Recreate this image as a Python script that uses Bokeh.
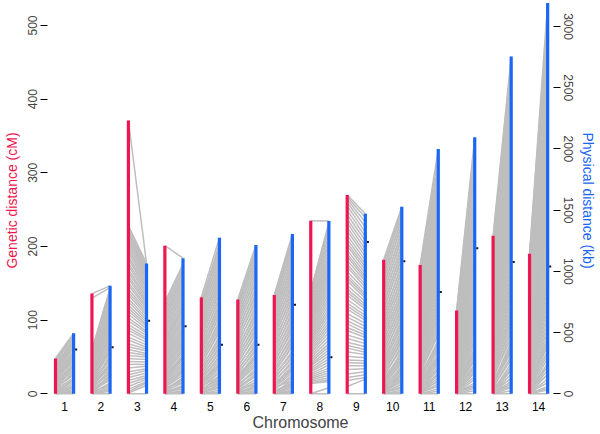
from bokeh.plotting import figure
from bokeh.models import Range1d, LinearAxis, FixedTicker
from bokeh.embed import file_html
from bokeh.resources import INLINE

chromosomes = list(range(1, 15))
genetic_len = [48, 136, 371, 201, 131, 128, 134, 235, 270, 182, 175, 113, 214.5, 190]
physical_len = [495, 882, 1064, 1108, 1275, 1216, 1305, 1411, 1471, 1528, 2000, 2095, 2755, 3193]
centromere_kb = [361, 380, 597, 551, 401, 401, 727, 298, 1240, 1083, 831, 1189, 1077, 1039]

# marker positions: genetic (cM) and physical (kb), one pair per marker
cm1 = [0, 0, 1, 2, 3, 4, 5, 6, 8, 9, 11, 13, 15, 17, 19, 21, 24, 26, 29, 31, 34, 37, 40, 43, 46, 48,
       0, 1, 2, 3, 5, 7, 10, 12, 14, 18, 20, 22, 27, 32, 36, 39, 45]
kb1 = [0, 25, 50, 35, 80, 105, 95, 130, 160, 150, 190, 215, 240, 230, 265, 290, 310, 330, 350, 370, 395, 415, 440, 460, 480, 495,
       10, 65, 15, 120, 55, 175, 200, 225, 250, 280, 300, 320, 340, 385, 405, 430, 470]
cm2 = [0, 0, 1, 2, 3, 5, 6, 8, 10, 12, 14, 16, 18, 20, 23, 25, 28, 30, 33, 36, 39, 42, 45, 48, 51, 54, 57, 60, 130, 136,
       0, 1, 2, 4, 7, 9, 11, 13, 15, 17, 19, 22, 24, 27, 29, 31, 35, 38, 41, 44, 47, 50, 53, 56, 59]
kb2 = [0, 20, 45, 75, 60, 110, 140, 175, 160, 210, 250, 290, 270, 330, 370, 410, 450, 440, 500, 540, 580, 620, 660, 700, 745, 790, 830, 860, 868, 882,
       35, 90, 130, 150, 195, 230, 240, 310, 300, 350, 390, 360, 420, 470, 480, 520, 560, 600, 640, 680, 720, 770, 810, 845, 855]
cm3 = [0, 3, 10, 18, 26, 35, 44, 52, 60, 68, 77, 86, 94, 103, 112, 120, 129, 138, 147, 156, 165, 174, 183, 192, 200, 208, 215, 222, 228, 371,
       1, 6, 14, 22, 30, 40, 48, 56, 64, 73, 82, 90, 99, 108, 116, 125, 134, 142, 151, 160, 169, 178, 187, 196, 204, 211, 218, 225]
kb3 = [0, 90, 120, 150, 190, 225, 260, 300, 330, 365, 400, 440, 475, 510, 550, 585, 620, 660, 700, 735, 770, 810, 850, 890, 930, 970, 1000, 1035, 1064, 1064,
       70, 100, 135, 170, 205, 240, 280, 315, 350, 380, 420, 455, 495, 530, 565, 600, 640, 680, 715, 750, 790, 830, 870, 910, 950, 985, 1020, 1050]
cm4 = [0, 0, 1, 2, 4, 5, 7, 9, 11, 14, 17, 20, 24, 28, 32, 37, 42, 47, 52, 58, 64, 70, 76, 83, 90, 97, 104, 111, 118, 125, 201,
       0, 1, 3, 6, 8, 10, 13, 16, 19, 22, 26, 30, 35, 40, 45, 50, 55, 61, 67, 73, 80, 87, 94, 101, 108, 115, 122]
kb4 = [0, 25, 55, 40, 90, 120, 110, 150, 185, 220, 260, 300, 290, 340, 380, 420, 460, 500, 540, 590, 630, 680, 720, 770, 820, 870, 920, 960, 1010, 1060, 1108,
       12, 70, 60, 130, 95, 170, 200, 240, 280, 320, 310, 360, 400, 440, 480, 520, 565, 610, 655, 700, 745, 795, 845, 895, 940, 985, 1035]
cm5 = [0, 0, 1, 2, 3, 5, 7, 9, 11, 14, 17, 20, 24, 28, 32, 36, 41, 46, 51, 56, 61, 67, 73, 79, 85, 91, 97, 103, 109, 115, 121, 126, 131,
       0, 1, 2, 4, 6, 8, 10, 12, 16, 19, 22, 26, 30, 34, 39, 44, 49, 54, 59, 64, 70, 76, 82, 88, 94, 100, 106, 112, 118, 124]
kb5 = [0, 30, 60, 45, 95, 130, 115, 170, 210, 250, 240, 290, 330, 370, 410, 450, 500, 540, 580, 630, 670, 720, 770, 820, 870, 920, 960, 1010, 1060, 1110, 1160, 1200, 1275,
       15, 75, 110, 150, 80, 190, 140, 230, 270, 310, 350, 390, 430, 470, 520, 560, 600, 650, 700, 745, 795, 845, 895, 940, 985, 1035, 1085, 1135, 1180, 1230]
cm6 = [0, 0, 1, 2, 4, 5, 7, 9, 12, 15, 18, 21, 25, 29, 33, 38, 43, 48, 53, 58, 64, 70, 76, 82, 88, 94, 100, 106, 112, 118, 123, 128,
       0, 1, 3, 6, 8, 10, 13, 16, 20, 23, 27, 31, 36, 41, 46, 51, 56, 61, 67, 73, 79, 85, 91, 97, 103, 109, 115, 120, 126]
kb6 = [0, 25, 55, 40, 90, 120, 150, 140, 190, 230, 270, 310, 300, 350, 390, 430, 480, 520, 560, 610, 650, 700, 750, 800, 850, 900, 950, 1000, 1050, 1100, 1150, 1216,
       12, 70, 100, 75, 165, 210, 180, 250, 290, 330, 370, 410, 455, 500, 540, 585, 630, 675, 725, 775, 825, 875, 925, 975, 1025, 1075, 1125, 1175, 1195]
cm7 = [0, 0, 1, 2, 3, 5, 7, 9, 12, 15, 18, 22, 26, 30, 34, 39, 44, 49, 54, 60, 66, 72, 78, 84, 90, 96, 102, 108, 114, 120, 126, 130, 134,
       0, 1, 2, 4, 6, 8, 10, 13, 16, 20, 24, 28, 32, 37, 42, 47, 52, 57, 63, 69, 75, 81, 87, 93, 99, 105, 111, 117, 123, 128, 132]
kb7 = [0, 30, 20, 60, 90, 80, 130, 170, 210, 200, 250, 290, 330, 380, 420, 460, 510, 550, 600, 650, 700, 750, 800, 850, 900, 950, 1000, 1050, 1100, 1160, 1210, 1250, 1305,
       15, 45, 110, 70, 150, 110, 190, 230, 270, 310, 350, 400, 440, 485, 530, 575, 625, 675, 725, 775, 825, 875, 925, 975, 1025, 1075, 1130, 1185, 1230, 1275, 1290]
cm8 = [0, 14, 17, 21, 25, 30, 35, 40, 46, 52, 58, 64, 70, 76, 82, 88, 94, 100, 106, 112, 118, 124, 130, 136, 140, 235,
       0, 15, 19, 23, 27, 32, 38, 43, 49, 55, 61, 67, 73, 79, 85, 91, 97, 103, 109, 115, 121, 127, 133, 138]
kb8 = [0, 100, 130, 170, 210, 260, 310, 360, 410, 470, 530, 580, 640, 700, 760, 820, 880, 940, 1000, 1060, 1120, 1190, 1260, 1340, 1400, 1411,
       50, 115, 150, 190, 235, 285, 335, 385, 440, 500, 555, 610, 670, 730, 790, 850, 910, 970, 1030, 1090, 1155, 1225, 1300, 1370]
cm9 = [0, 18, 27, 38, 46, 57, 66, 75, 86, 95, 104, 115, 123, 134, 142, 153, 161, 172, 181, 190, 201, 210, 221, 232, 243, 255, 264, 270,
       10, 22, 33, 42, 51, 62, 70, 80, 90, 99, 109, 119, 128, 138, 147, 157, 166, 176, 186, 195, 205, 215, 226, 237, 249, 260, 267]
kb9 = [0, 134, 180, 230, 270, 320, 360, 410, 460, 500, 550, 600, 640, 690, 730, 780, 820, 870, 920, 960, 1010, 1060, 1120, 1180, 1250, 1320, 1400, 1471,
       120, 155, 205, 250, 295, 340, 385, 435, 480, 525, 575, 620, 665, 710, 755, 800, 845, 895, 940, 985, 1035, 1090, 1150, 1215, 1285, 1360, 1440]
cm10 = [0, 0, 1, 2, 3, 4, 6, 8, 10, 12, 15, 18, 21, 25, 29, 33, 38, 43, 48, 54, 60, 66, 72, 79, 86, 93, 100, 108, 116, 124, 132, 140, 148, 156, 164, 172, 182,
        0, 1, 2, 3, 5, 7, 9, 11, 13, 16, 19, 23, 27, 31, 35, 40, 45, 51, 57, 63, 69, 75, 82, 89, 96, 104, 112, 120, 128, 136, 144, 152, 160, 168, 177]
kb10 = [0, 30, 60, 45, 100, 130, 170, 150, 210, 250, 290, 280, 330, 370, 420, 460, 500, 550, 590, 640, 690, 740, 790, 840, 890, 940, 990, 1040, 1100, 1150, 1200, 1260, 1310, 1370, 1420, 1470, 1528,
        15, 80, 115, 150, 190, 230, 200, 270, 310, 350, 310, 395, 440, 480, 525, 570, 615, 665, 715, 765, 815, 865, 915, 965, 1015, 1070, 1125, 1175, 1230, 1285, 1340, 1395, 1445, 1495, 1510]
cm11 = [0, 0, 1, 2, 3, 5, 7, 9, 11, 14, 17, 20, 24, 28, 32, 37, 42, 47, 52, 58, 64, 70, 76, 83, 90, 97, 104, 111, 118, 125, 132, 139, 146, 153, 160, 167, 175,
        0, 1, 2, 4, 6, 8, 10, 12, 15, 18, 22, 26, 30, 35, 40, 45, 50, 55, 61, 67, 73, 80, 87, 94, 101, 108, 115, 122, 129, 136, 143, 150, 157, 164, 171]
kb11 = [0, 40, 80, 60, 130, 170, 150, 220, 270, 320, 300, 370, 420, 480, 530, 590, 640, 700, 750, 810, 870, 930, 990, 1050, 1110, 1170, 1230, 1290, 1350, 1410, 1480, 1550, 1620, 1700, 1780, 1880, 2000,
        20, 110, 160, 100, 200, 250, 190, 290, 350, 400, 440, 400, 500, 560, 620, 670, 725, 780, 840, 900, 960, 1020, 1080, 1140, 1200, 1260, 1320, 1380, 1445, 1515, 1585, 1660, 1740, 1830, 1940]
cm12 = [0, 0, 1, 2, 3, 4, 5, 7, 9, 11, 13, 15, 18, 21, 24, 27, 30, 34, 38, 42, 46, 50, 55, 60, 65, 70, 75, 80, 85, 90, 95, 100, 105, 109, 113,
        0, 1, 2, 3, 4, 6, 8, 10, 12, 14, 17, 20, 23, 26, 29, 32, 36, 40, 44, 48, 53, 58, 63, 68, 73, 78, 83, 88, 93, 98, 103, 107, 111]
kb12 = [0, 45, 90, 70, 140, 190, 170, 240, 290, 340, 330, 400, 450, 510, 560, 620, 680, 740, 800, 860, 920, 990, 1050, 1120, 1190, 1260, 1330, 1400, 1480, 1560, 1650, 1750, 1850, 1960, 2095,
        25, 120, 60, 170, 230, 210, 270, 310, 370, 360, 430, 480, 540, 590, 650, 710, 770, 830, 890, 955, 1020, 1085, 1155, 1225, 1295, 1365, 1440, 1520, 1605, 1700, 1800, 1900, 2030]
cm13 = [0, 0, 1, 2, 3, 5, 7, 9, 12, 15, 18, 22, 26, 30, 35, 40, 45, 51, 57, 63, 70, 77, 84, 91, 99, 107, 115, 123, 131, 140, 149, 158, 167, 176, 186, 196, 205, 214.5,
        0, 1, 2, 3, 4, 6, 8, 11, 14, 17, 20, 24, 28, 33, 38, 43, 48, 54, 60, 67, 74, 81, 88, 95, 103, 111, 119, 127, 136, 145, 154, 163, 172, 181, 191, 201, 210]
kb13 = [0, 50, 100, 80, 160, 220, 200, 280, 340, 400, 380, 460, 530, 600, 670, 740, 810, 880, 950, 1020, 1100, 1180, 1260, 1340, 1420, 1500, 1580, 1660, 1750, 1840, 1940, 2040, 2150, 2260, 2380, 2500, 2620, 2755,
        25, 130, 60, 190, 250, 120, 310, 370, 430, 350, 500, 570, 640, 700, 775, 845, 915, 985, 1060, 1140, 1220, 1300, 1380, 1460, 1540, 1620, 1705, 1795, 1890, 1990, 2095, 2205, 2320, 2440, 2560, 2690, 2720]
cm14 = [0, 0, 1, 2, 3, 4, 6, 8, 10, 13, 16, 19, 23, 27, 31, 36, 41, 46, 52, 58, 64, 70, 77, 84, 91, 98, 106, 114, 122, 130, 138, 146, 154, 162, 170, 178, 185, 190,
        0, 1, 2, 3, 5, 7, 9, 11, 14, 17, 21, 25, 29, 33, 38, 43, 49, 55, 61, 67, 73, 80, 87, 94, 102, 110, 118, 126, 134, 142, 150, 158, 166, 174, 182, 188]
kb14 = [0, 60, 120, 90, 190, 250, 230, 320, 390, 460, 440, 530, 610, 690, 770, 850, 930, 1010, 1100, 1190, 1280, 1370, 1460, 1560, 1660, 1760, 1860, 1970, 2080, 2190, 2300, 2420, 2540, 2660, 2790, 2920, 3050, 3193,
        30, 160, 40, 220, 290, 150, 350, 420, 500, 400, 570, 650, 730, 810, 890, 970, 1055, 1145, 1235, 1325, 1415, 1510, 1610, 1710, 1810, 1915, 2025, 2135, 2245, 2360, 2480, 2600, 2725, 2855, 2985, 3120]

marker_cm = [cm1, cm2, cm3, cm4, cm5, cm6, cm7, cm8, cm9, cm10, cm11, cm12, cm13, cm14]
marker_kb = [kb1, kb2, kb3, kb4, kb5, kb6, kb7, kb8, kb9, kb10, kb11, kb12, kb13, kb14]

y_ticks_cm = [0, 100, 200, 300, 400, 500]
y_ticks_kb = [0, 500, 1000, 1500, 2000, 2500, 3000]

RED = "#EE1550"
BLUE = "#1A66F5"
GRAY = "#BEBEBE"
FONT = "Liberation Sans"

KB_PER_CM = 6.017
Y0, Y1 = -9.1, 533.9
RED_OFF, BLUE_OFF = -0.247, 0.25

p = figure(width=600, height=434, output_backend="svg", toolbar_location=None,
           x_range=Range1d(0.534, 14.41), y_range=Range1d(Y0, Y1),
           min_border_left=47, min_border_right=47, min_border_top=0, min_border_bottom=34,
           x_axis_label="Chromosome", y_axis_label="Genetic distance (cM)")
p.extra_y_ranges = {"kb": Range1d(Y0 * KB_PER_CM, Y1 * KB_PER_CM)}
p.outline_line_color = None
p.grid.visible = False
p.background_fill_color = "white"
p.border_fill_color = "white"

# gray marker connections
x0s, y0s, x1s, y1s = [], [], [], []
for c, cms, kbs in zip(chromosomes, marker_cm, marker_kb):
    for a, b in zip(cms, kbs):
        x0s.append(c + RED_OFF)
        y0s.append(a)
        x1s.append(c + BLUE_OFF)
        y1s.append(b / KB_PER_CM)
p.segment(x0=x0s, y0=y0s, x1=x1s, y1=y1s, line_color=GRAY, line_width=1.5)

# bars
p.segment(x0=[c + RED_OFF for c in chromosomes], y0=[0] * 14,
          x1=[c + RED_OFF for c in chromosomes], y1=genetic_len,
          line_color=RED, line_width=3.2, line_cap="butt")
p.segment(x0=[c + BLUE_OFF for c in chromosomes], y0=[0] * 14,
          x1=[c + BLUE_OFF for c in chromosomes], y1=physical_len,
          line_color=BLUE, line_width=3.2, line_cap="butt", y_range_name="kb")
p.rect(x=[c + BLUE_OFF + 0.07 for c in chromosomes], y=centromere_kb, width=2, height=2,
       width_units="screen", height_units="screen", fill_color="#101030", line_color=None,
       y_range_name="kb")

# axes
xa = p.xaxis[0]
xa.ticker = FixedTicker(ticks=chromosomes)
xa.axis_line_color = None
xa.major_tick_line_color = None
xa.minor_tick_line_color = None
xa.major_tick_out = 0
xa.major_tick_in = 0
xa.major_label_standoff = 1
xa.major_label_text_font = FONT
xa.major_label_text_font_size = "12px"
xa.major_label_text_color = "black"
xa.axis_label_text_font = FONT
xa.axis_label_text_font_size = "16px"
xa.axis_label_text_font_style = "normal"
xa.axis_label_standoff = 0

ya = p.yaxis[0]
ya.ticker = FixedTicker(ticks=y_ticks_cm)
ya.axis_line_color = None
ya.minor_tick_line_color = None
ya.major_tick_out = 7
ya.major_tick_in = 0
ya.major_tick_line_color = "black"
ya.major_label_orientation = "vertical"
ya.major_label_standoff = 3
ya.major_label_text_font = FONT
ya.major_label_text_font_size = "12px"
ya.axis_label_text_font = FONT
ya.axis_label_text_font_size = "14px"
ya.axis_label_text_font_style = "normal"
ya.axis_label_text_color = RED
ya.axis_label_standoff = 6

ra = LinearAxis(y_range_name="kb", axis_label="Physical distance (kb)")
ra.ticker = FixedTicker(ticks=y_ticks_kb)
ra.axis_line_color = None
ra.minor_tick_line_color = None
ra.major_tick_out = 7
ra.major_tick_in = 0
ra.major_label_orientation = "vertical"
ra.major_label_standoff = 3
ra.major_label_text_font = FONT
ra.major_label_text_font_size = "12px"
ra.axis_label_text_font = FONT
ra.axis_label_text_font_size = "14px"
ra.axis_label_text_font_style = "normal"
ra.axis_label_text_color = BLUE
ra.axis_label_standoff = 4
p.add_layout(ra, "right")

open("out.html", "w").write(file_html(p, INLINE))
